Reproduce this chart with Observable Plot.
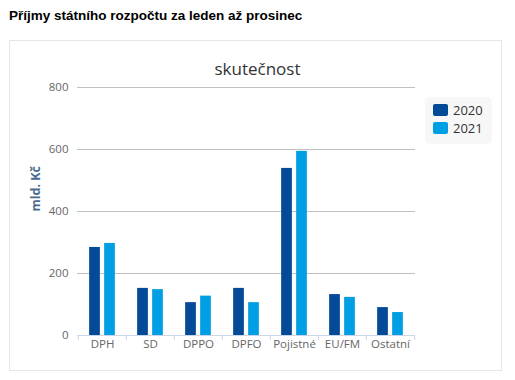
<!DOCTYPE html>
<html>
<head>
<meta charset="utf-8">
<script src="https://cdn.jsdelivr.net/npm/d3@7"></script>
<script src="https://cdn.jsdelivr.net/npm/@observablehq/plot@0.6"></script>
<style>
  html, body { margin: 0; padding: 0; background: #fff; }
  #page { position: relative; width: 515px; height: 380px; overflow: hidden; }
  #title { position: absolute; left: 9px; top: 8px; font: bold 13.5px "Liberation Sans", Arial, sans-serif; color: #000; white-space: nowrap; }
  #box { position: absolute; left: 9px; top: 40px; width: 493px; height: 331px; border: 1px solid #e6e6e6; box-sizing: border-box; }
  #subtitle { position: absolute; left: 0; width: 515px; top: 57px; text-align: center; font: 17px "Open Sans", sans-serif; color: #333; }
  #chart { position: absolute; left: 0; top: 0; }
  #legend { position: absolute; left: 425px; top: 97px; width: 67px; height: 47px; background: #f7f7f7; border-radius: 5px; font: 13px "Open Sans", sans-serif; color: #333; }
  .li { position: absolute; left: 8px; height: 16px; line-height: 16px; white-space: nowrap; }
  .sw { display: inline-block; width: 15px; height: 12px; border-radius: 2px; vertical-align: -1px; margin-right: 5px; }
</style>
</head>
<body>
<div id="page">
  <div id="title">Příjmy státního rozpočtu za leden až prosinec</div>
  <div id="box"></div>
  <div id="subtitle">skutečnost</div>
  <div id="chart"></div>
  <div id="legend"></div>
</div>
<script>
const categories = ["DPH", "SD", "DPPO", "DPFO", "Pojistné", "EU/FM", "Ostatní"];
const series = ["2020", "2021"];
const values2020 = [284, 152, 106, 152, 539, 132, 90];
const values2021 = [297, 148, 127, 106, 594, 123, 74];
const yTicks = [0, 200, 400, 600, 800];
const yLabel = "mld. Kč";
const colors = ["#034a97", "#009fe3"];

const rows = [];
categories.forEach((c, i) => {
  rows.push({cat: c, year: series[0], value: values2020[i]});
  rows.push({cat: c, year: series[1], value: values2021[i]});
});

const W = 515, H = 380;
const mL = 77, mR = 100, mT = 87, mB = 45;
const band = (W - mL - mR) / categories.length;
const barW = 11, gap = 4;
const outer = (band - 2 * barW - gap) / 2;

const font = '"Open Sans", sans-serif';

const plot = Plot.plot({
  width: W,
  height: H,
  marginLeft: mL,
  marginRight: mR,
  marginTop: mT,
  marginBottom: mB,
  style: {fontFamily: font, fontSize: "11px", background: "transparent", color: "#666"},
  x: {domain: categories, padding: 0, axis: null, label: null},
  y: {domain: [0, 800], axis: null, label: null},
  color: {domain: series, range: colors},
  marks: [
    Plot.gridY(yTicks.filter(d => d > 0), {stroke: "#c0c0c0", strokeOpacity: 1}),
    Plot.barY(rows.filter(d => d.year === series[0]), {
      x: "cat", y: "value", fill: "year",
      insetLeft: outer, insetRight: band - outer - barW
    }),
    Plot.barY(rows.filter(d => d.year === series[1]), {
      x: "cat", y: "value", fill: "year",
      insetLeft: outer + barW + gap, insetRight: outer
    }),
    Plot.ruleY([0], {stroke: "#ccd6eb", strokeOpacity: 1}),
    Plot.axisX({tickSize: 5, stroke: "#ccd6eb", strokeOpacity: 1, tickFormat: () => "", dx: -band / 2, label: null}),
    Plot.axisX([categories[categories.length - 1]], {tickSize: 5, stroke: "#ccd6eb", strokeOpacity: 1, tickFormat: () => "", dx: band / 2, label: null}),
    Plot.axisX({tickSize: 0, tickPadding: 4, fill: "#666", fontSize: 11.5, label: null}),
    Plot.axisY({ticks: yTicks, tickSize: 0, tickPadding: 9, fill: "#666", fontSize: 11.5, label: null}),
    Plot.text([yLabel], {text: d => d, frameAnchor: "left", rotate: -90, dx: -42, fill: "#4b6a91", fontWeight: "bold", fontSize: 12.5})
  ]
});
document.getElementById("chart").appendChild(plot);

const legend = document.getElementById("legend");
series.forEach((s, i) => {
  const d = document.createElement("div");
  d.className = "li";
  d.style.top = (5 + i * 18) + "px";
  d.innerHTML = `<span class="sw" style="background:${colors[i]}"></span>${s}`;
  legend.appendChild(d);
});
</script>
</body>
</html>
